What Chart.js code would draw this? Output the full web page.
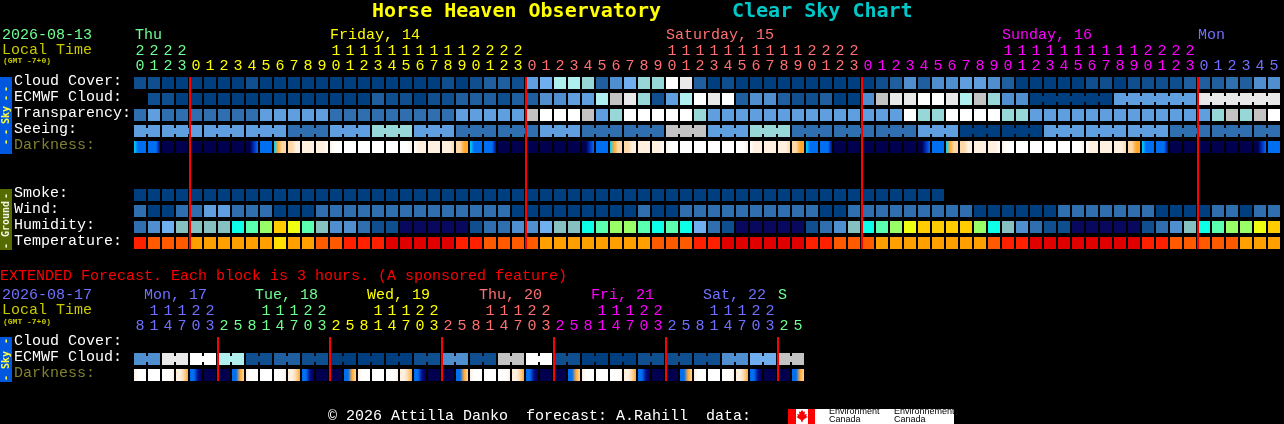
<!DOCTYPE html>
<html><head><meta charset="utf-8">
<script src="https://cdn.jsdelivr.net/npm/chart.js@4/dist/chart.umd.min.js"></script>
<style>
html,body{margin:0;padding:0;background:#000;overflow:hidden;width:1284px;height:424px}
canvas{position:absolute;left:0}
#a{top:0}#b{top:260px}
</style></head><body>
<canvas id="a" width="1284" height="260"></canvas>
<canvas id="b" width="1284" height="164"></canvas>
<script>
// ---------- DATA ----------
const hours=[20,21,22,23,0,1,2,3,4,5,6,7,8,9,10,11,12,13,14,15,16,17,18,19,20,21,22,23,0,1,2,3,4,5,6,7,8,9,10,11,12,13,14,15,16,17,18,19,20,21,22,23,0,1,2,3,4,5,6,7,8,9,10,11,12,13,14,15,16,17,18,19,20,21,22,23,0,1,2,3,4,5];
const rowNames=['Cloud Cover:','ECMWF Cloud:','Transparency:','Seeing:','Darkness:','','','Smoke:','Wind:','Humidity:','Temperature:'];
const cloudCover=[1,1,0,0,0,0,0,0,1,0, 0,0,0,0,0,0,0,0,0,0, 0,0,1,0,1,2,2,1,5,6, 8,8,7,2,4,6,7,7,11,10, 2,0,1,0,0,0,0,0,0,0, 0,0,0,1,2,4,2,4,4,5, 5,4,2,0,0,0,0,0,1,1, 0,1,1,1,1,2,2,2,3,2, 4,4];
const ecmwfCloud=[null,1,1,0,0,0,0,0,0,0, 0,0,0,0,0,0,0,2,1,1, 0,1,1,2,2,2,1,2,2,4, 4,5,5,8,9,10,7,1,5,8, 11,10,11,2,4,4,2,1,1,2, 0,0,4,9,10,10,11,11,10,8, 9,7,4,4,0,0,0,0,0,0, 5,5,5,5,5,5,10,10,10,10, 10,10];
const transparency=[3,5,3,3,3,3,3,3,3,5, 5,5,5,5,3,3,3,3,3,3, 3,3,3,5,5,5,5,5,9,11, 11,11,9,5,7,11,11,11,11,11, 7,5,5,5,5,5,5,5,5,5, 5,5,5,5,5,11,7,7,11,11, 11,11,7,7,5,5,5,5,5,5, 5,5,5,5,5,5,5,7,9,7, 9,11];
const seeing=[5,5, 5,5,5, 5,5,5, 5,5,5, 3,3,3, 5,5,5, 7,7,7, 5,5,5, 3,3,3, 3,3,3, 5,5,5, 3,3,3, 3,3,3, 9,9,9, 5,5,5, 7,7,7, 3,3,3, 3,3,3, 3,3,3, 5,5,5, 0,0,0, 0,0,0, 5,5,5, 5,5,5, 5,5,5, 3,3,3, 3,3,3, 3,3];
const seeingRuns=[2,3,3,3,3,3,3,3,3,3,3,3,3,3,3,3,3,3,3,3,3,3,3,3,3,3,3,2];
const ecmwfRuns=[1,1,1,1,1,1,1,1,1,1,1,1,1,1,1,1,1,1,1,1,1,1,1,1,1,1,1,1,1,1,1,1,1,1,1,1,1,1,1,1,1,1,1,1,1,1,1,1,1,1,1,1,1,1,1,1,1,1,1,1,1,1,1,1,6,6,6];
const darkness=['4333','3331','0000','0000','0000','0000','0000','0000','0023','3333','4566','6677','7777','7778','7888','8888','8888','8888','8888','8887','8777','7777','7776','6655',
'4333','3331','0000','0000','0000','0000','0000','0000','0023','3333','4566','6677','7777','7778','7888','8888','8888','8888','8888','8887','8777','7777','7776','6655',
'4333','3331','0000','0000','0000','0000','0000','0000','0023','3333','4566','6677','7777','7778','7888','8888','8888','8888','8888','8887','8777','7777','7776','6655',
'4333','3331','0000','0000','0000','0000','0000','0000','0023','3333'];
const smoke=[0,0,0,0,0,0,0,0,0,0, 0,0,0,0,0,0,0,0,0,0, 0,0,0,0,0,0,0,0,0,0, 0,0,0,0,0,0,0,0,0,0, 0,0,0,0,0,0,0,0,0,0, 0,0,0,0,0,0,0,0];
const wind=[3,0,0,3,3,5,5,3,3,3, 0,0,0,3,3,3,3,3,3,3, 3,3,3,3,3,3,3,0,0,0, 0,0,0,0,0,0,3,0,0,3, 3,3,3,3,3,3,3,3,3,0, 0,3,3,3,3,3,3,3,3,3, 0,0,0,0,0,0,3,3,3,3, 3,3,3,0,0,0,0,3,3,0, 3,3];
const humidity=[2,3,4,5,5,5,5,6,7,8, 10,9,7,5,3,3,2,1,1,0, 0,0,0,0,1,2,2,3,3,4, 5,5,6,7,8,8,7,6,7,6, 4,2,1,0,0,0,0,0,1,2, 3,5,6,7,8,9,10,10,10,10, 8,6,5,3,2,1,1,0,0,0, 0,0,1,2,3,5,6,7,8,8, 9,10];
const temperature=[1,2,2,2,3,3,3,3,3,3, 4,3,3,2,2,1,1,1,0,0, 0,0,0,1,1,2,2,2,2,3, 3,3,3,3,3,3,3,2,2,2, 1,1,0,0,0,0,0,0,1,1, 2,2,2,3,3,3,3,3,3,3, 3,2,1,1,0,0,0,0,0,0, 0,0,1,1,2,2,2,2,2,3, 3,3];

const extHours=[8,11,14,17,20,23,2,5, 8,11,14,17,20,23,2,5, 8,11,14,17,20,23,2,5, 8,11,14,17,20,23,2,5, 8,11,14,17,20,23,2,5, 8,11,14,17,20,23,2,5];
const extRowNames=['Cloud Cover:','ECMWF Cloud:','Darkness:'];
const extEcmwf=[4,4,10,10,11,11,8,8,1,1,2,2,1,1,0,0,0,0,0,0,1,1,4,4,1,1,9,9,11,11,1,1,0,0,0,0,1,1,1,1,1,1,4,4,6,6,9,9];
const extRuns=[2,2,2,2,2,2,2,2,2,2,2,2,2,2,2,2,2,2,2,2,2,2,2,2];
const extDarkness=['7888','8888','8887','7765','3310','0000','0000','3356','7888','8888','8887','7765','3310','0000','0000','3356','7888','8888','8887','7765','3310','0000','0000','3356','7888','8888','8887','7765','3310','0000','0000','3356','7888','8888','8887','7765','3310','0000','0000','3356','7888','8888','8887','7765','3310','0000','0000','3356'];

// ---------- PALETTES ----------
const skyColors=['#003f7f','#0f4f8f','#1f5f9f','#2f6faf','#4f8fcf','#5f9fdf','#6fafef','#97d7d7','#afefef','#c3c3c3','#e9e9e9','#ffffff'];
const humColors=['#08085f','#0f4f8f','#2f6faf','#4f8fcf','#6fafef','#86c0c0','#0dffe8','#5affb0','#99ff66','#eeff11','#ffcc00'];
const tempColors=['#e00000','#ff2000','#ff5a00','#ffa000','#ffe000'];
const darkColors=['#00004f','#000a8c','#0030c0','#006ef0','#00d0ff','#ffa830','#ffd8a8','#fff0e0','#ffffff'];
const dayColors={thu:'#70ff90',fri:'#ffff00',sat:'#ff7070',sun:'#ff00ff',mon:'#7070ff'};
const FONT='"Liberation Mono"';

// ---------- HELPERS ----------
const H=0.375, BRIDGE=3/16, NUDGE=1/14;
function rowBars(row,vals,pal){
  return {data:vals.map((v,i)=>v==null?{x:i,y:null}:{x:i,y:[row-H,row+H]}),
          backgroundColor:vals.map(v=>v==null?'transparent':pal[v]),xAxisID:'x',barThickness:12};
}
function darkBars(row,vals){
  return {data:vals.map((v,i)=>({x:i,y:[row-H,row+H]})),xAxisID:'x',barThickness:12,
    backgroundColor(c){
      if(c.dataIndex==null)return '#000';
      const s=vals[c.dataIndex];const px=c.chart.scales.x.getPixelForTick(c.dataIndex);
      const g=c.chart.ctx.createLinearGradient(px-6,0,px+6,0);
      [...s].forEach((d,k)=>g.addColorStop(k/(s.length-1),darkColors[+d]));
      return g;
    }};
}
function bridges(row,vals,runs,pal){
  const data=[],col=[];let i=0;
  runs.forEach(n=>{for(let k=1;k<n;k++){data.push({x:i+k,y:[row-BRIDGE,row+BRIDGE]});col.push(pal[vals[i+k]]);}i+=n;});
  return {data,backgroundColor:col,xAxisID:'xb',barThickness:2};
}
function rules(list,top,bottom){
  return {data:list.map(k=>({x:k+NUDGE,y:[top-H,bottom+H]})),backgroundColor:'#ff0000',xAxisID:'xb',barThickness:2,order:-1};
}
function textPlugin(items,extra){
  return {id:'txt',afterDraw(ch){
    const c=ch.ctx;
    if(extra)extra(c);
    items.forEach(t=>{
      c.save();c.font=t.f;c.fillStyle=t.c;c.textBaseline='middle';c.textAlign='left';
      if(t.r){c.translate(t.x,t.y);c.rotate(-Math.PI/2);c.textAlign='center';c.fillText(t.s,0,0);}
      else c.fillText(t.s,t.x,t.y);
      c.restore();
    });
  }};
}
function band(c,y,h,col){c.fillStyle=col;c.fillRect(0,y,12,h);}
function makeChart(id,labels,nRows,names,datasets,colorFn,pad,n,plugin){
  return new Chart(document.getElementById(id),{
    type:'bar',
    data:{labels,datasets},
    plugins:[plugin],
    options:{
      responsive:false,animation:false,devicePixelRatio:1,
      layout:{padding:pad},
      datasets:{bar:{grouped:false,borderWidth:0,inflateAmount:0}},
      plugins:{legend:{display:false},tooltip:{enabled:false},title:{display:false}},
      scales:{
        x:{type:'category',position:'top',offset:true,
           grid:{display:false,drawTicks:false},border:{display:false},
           afterFit(s){s.height=75;},
           ticks:{autoSkip:false,maxRotation:0,minRotation:0,padding:1,font:{family:FONT,size:15,lineHeight:1},color:c=>colorFn(c.index)}},
        xb:{type:'linear',display:false,offset:false,min:0,max:n,grid:{offset:false}},
        y:{type:'linear',reverse:true,min:-0.5,max:nRows-0.5,
           grid:{display:false,drawTicks:false},border:{display:false},
           afterFit(s){s.width=119;},
           afterBuildTicks(s){s.ticks=names.map((_,i)=>({value:i}));},
           ticks:{crossAlign:'far',labelOffset:-2,padding:0,autoSkip:false,
             callback:(v)=>names[v],
             font:{family:FONT,size:15},
             color:c=>names[c.index]==='Darkness:'?'#808030':'#ffffff'}}
      }
    }
  });
}
const tick=h=>h>=10?[String(Math.floor(h/10)),String(h%10)]:['',String(h)];

// ---------- MAIN CHART ----------
const midnights=hours.map((h,i)=>h===0?i:-1).filter(i=>i>=0);
const mainDayColor=i=>{const d=midnights.filter(m=>m<=i).length;return [dayColors.thu,dayColors.fri,dayColors.sat,dayColors.sun,dayColors.mon][d];};
const S=skyColors;
const mainSets=[
  rules(midnights,0,10),
  rowBars(0,cloudCover,S),rowBars(1,ecmwfCloud,S),rowBars(2,transparency,S),rowBars(3,seeing,S),
  bridges(3,seeing,seeingRuns,S),bridges(1,ecmwfCloud,ecmwfRuns,S),
  darkBars(4,darkness),
  rowBars(7,smoke,S),rowBars(8,wind,S),rowBars(9,humidity,humColors),rowBars(10,temperature,tempColors)
];
const F15=`15px ${FONT}`;
const BF='bold 10px "DejaVu Sans Mono"';
const mainText=[
 {s:'Horse Heaven Observatory',x:372,y:12,f:'bold 20px "DejaVu Sans Mono"',c:'#ffff00'},
 {s:'Clear Sky Chart',x:732,y:12,f:'bold 20px "DejaVu Sans Mono"',c:'#00c8c8'},
 {s:'2026-08-13',x:2,y:35,f:F15,c:dayColors.thu},
 {s:'Local Time',x:2,y:50,f:F15,c:'#c8c800'},
 {s:'(GMT -7+0)',x:3,y:61,f:`bold 8px ${FONT}`,c:'#c8c800'},
 {s:'Thu',x:135,y:35,f:F15,c:dayColors.thu},
 {s:'Friday, 14',x:330,y:35,f:F15,c:dayColors.fri},
 {s:'Saturday, 15',x:666,y:35,f:F15,c:dayColors.sat},
 {s:'Sunday, 16',x:1002,y:35,f:F15,c:dayColors.sun},
 {s:'Mon',x:1198,y:35,f:F15,c:dayColors.mon},
 {s:'-',x:6,y:89,r:1,f:BF,c:'#ffff40'},{s:'-',x:6,y:98,r:1,f:BF,c:'#ffff40'},
 {s:'Sky',x:6,y:115,r:1,f:BF,c:'#ffff40'},
 {s:'-',x:6,y:132,r:1,f:BF,c:'#ffff40'},{s:'-',x:6,y:142,r:1,f:BF,c:'#ffff40'},
 {s:'-',x:6,y:196,r:1,f:BF,c:'#f4f4e0'},
 {s:'Ground',x:6,y:219,r:1,f:BF,c:'#f4f4e0'},
 {s:'-',x:6,y:246,r:1,f:BF,c:'#f4f4e0'}
];
makeChart('a',hours.map(tick),11,rowNames,mainSets,mainDayColor,{left:14,right:3,top:0,bottom:9},82,
  textPlugin(mainText,c=>{band(c,77,77,'#0058e0');band(c,189,61,'#556b00');}));

// ---------- EXTENDED CHART ----------
const extMid=extHours.map((h,i)=>h===2?i:-1).filter(i=>i>=0);
const extColorList=[dayColors.mon,dayColors.thu,dayColors.fri,dayColors.sat,dayColors.sun,dayColors.mon,dayColors.thu];
const extDayColor=i=>extColorList[extMid.filter(m=>m<=i).length];
const extSets=[
  rules(extMid,0,2),
  rowBars(1,extEcmwf,S),bridges(1,extEcmwf,extRuns,S),
  darkBars(2,extDarkness)
];
const o=260;
const extText=[
 {s:'EXTENDED Forecast. Each block is 3 hours. (A sponsored feature)',x:0,y:276-o,f:F15,c:'#ff0000'},
 {s:'2026-08-17',x:2,y:295-o,f:F15,c:dayColors.mon},
 {s:'Local Time',x:2,y:310-o,f:F15,c:'#c8c800'},
 {s:'(GMT -7+0)',x:3,y:322-o,f:`bold 8px ${FONT}`,c:'#c8c800'},
 {s:'Mon, 17',x:144,y:295-o,f:F15,c:dayColors.mon},
 {s:'Tue, 18',x:255,y:295-o,f:F15,c:dayColors.thu},
 {s:'Wed, 19',x:367,y:295-o,f:F15,c:dayColors.fri},
 {s:'Thu, 20',x:479,y:295-o,f:F15,c:dayColors.sat},
 {s:'Fri, 21',x:591,y:295-o,f:F15,c:dayColors.sun},
 {s:'Sat, 22',x:703,y:295-o,f:F15,c:dayColors.mon},
 {s:'S',x:778,y:295-o,f:F15,c:dayColors.thu},
 {s:'-',x:6,y:341-o,r:1,f:BF,c:'#ffff40'},
 {s:'Sky',x:6,y:360-o,r:1,f:BF,c:'#ffff40'},
 {s:'-',x:6,y:378-o,r:1,f:BF,c:'#ffff40'},
 {s:'© 2026 Attilla Danko  forecast: A.Rahill  data:',x:328,y:416-o,f:F15,c:'#ffffff'},
 {s:'Environment',x:829,y:412-o,f:'9px "Liberation Sans"',c:'#000'},
 {s:'Canada',x:829,y:420-o,f:'9px "Liberation Sans"',c:'#000'},
 {s:'Environnement',x:894,y:412-o,f:'9px "Liberation Sans"',c:'#000'},
 {s:'Canada',x:894,y:420-o,f:'9px "Liberation Sans"',c:'#000'}
];
function logo(c){
  const y=409-o;
  c.fillStyle='#fff';c.fillRect(788,y,166,15);
  c.fillStyle='#ff0000';c.fillRect(788,y,8,15);c.fillRect(808,y,7,15);
  c.beginPath();
  [[802,1],[803.5,3],[805,2.5],[804.5,5.5],[807,5],[806,7],[807.5,8],[803,11],[802.5,13],[801.5,13],[801,11],[796.5,8],[798,7],[797,5],[799.5,5.5],[799,2.5],[800.5,3]]
   .forEach((p,i)=>i?c.lineTo(p[0],y+p[1]):c.moveTo(p[0],y+p[1]));
  c.closePath();c.fill();
  band(c,337-o,45,'#0058e0');
}
makeChart('b',extHours.map(tick),3,extRowNames,extSets,extDayColor,{left:14,right:479,top:0,bottom:41},48,
  textPlugin(extText,logo));
</script>
</body></html>
